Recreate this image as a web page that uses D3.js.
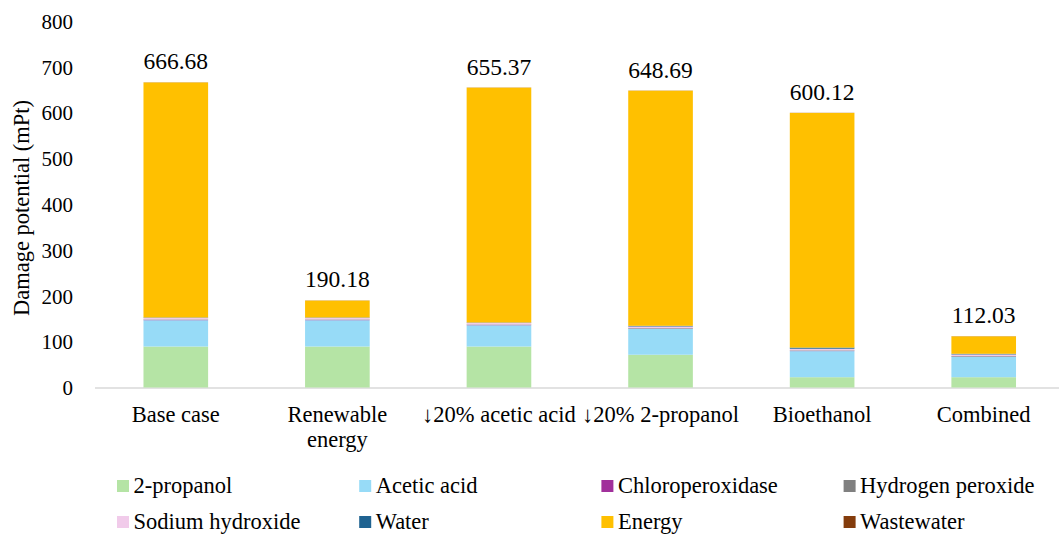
<!DOCTYPE html>
<html><head><meta charset="utf-8">
<script src="https://cdn.jsdelivr.net/npm/d3@7/dist/d3.min.js"></script>
<style>
html,body{margin:0;padding:0;background:#fff;}
svg text{font-family:"Liberation Serif","Tinos","Times New Roman","DejaVu Serif",serif !important;fill:#000;}
</style></head>
<body><svg id="c" width="1059" height="534"></svg>
<script>
const categories = ["Base case","Renewable energy","\u219320% acetic acid","\u219320% 2-propanol","Bioethanol","Combined"];
const seriesNames = ["2-propanol","Acetic acid","Chloroperoxidase","Hydrogen peroxide","Sodium hydroxide","Water","Energy","Wastewater"];
const propanol       = [89.5, 89.5, 89.5, 71.6, 22.5, 22.5];
const aceticAcid     = [57.5, 57.5, 46.5, 56.5, 57.0, 44.5];
const chloroperox    = [0.5, 0.5, 0.5, 0.5, 0.5, 0.5];
const hydrogenPerox  = [1.2, 1.2, 1.2, 1.2, 1.2, 1.2];
const sodiumHydrox   = [3.5, 3.5, 3.5, 3.5, 3.5, 3.5];
const water          = [0.8, 0.8, 0.8, 1.5, 2.5, 1.5];
const energy         = [513.38, 36.88, 513.07, 513.59, 512.62, 38.03];
const wastewater     = [0.3, 0.3, 0.3, 0.3, 0.3, 0.3];
const totals         = [666.68, 190.18, 655.37, 648.69, 600.12, 112.03];
const yTicks         = [0,100,200,300,400,500,600,700,800];

const colors = ["#B5E4A5","#97DBF7","#A1309B","#808080","#F1CBEA","#1F6391","#FFC000","#843C0C"];
const seriesValues = [propanol, aceticAcid, chloroperox, hydrogenPerox, sodiumHydrox, water, energy, wastewater];
const FONT = '"Liberation Serif","Tinos","Times New Roman","DejaVu Serif",serif';

const rows = categories.map((c,i)=>{
  const r = {cat:c};
  seriesNames.forEach((s,j)=>{ r[s] = seriesValues[j][i]; });
  return r;
});

const svg = d3.select("#c").attr("font-family",FONT);
const x = d3.scaleBand().domain(categories).range([95, 1064.5]).paddingInner(0.6).paddingOuter(0.3);
const y = d3.scaleLinear().domain([0,800]).range([387.5, 21.3]);

const stack = d3.stack().keys(seriesNames)(rows);

svg.append("line").attr("x1",95).attr("x2",1064.5).attr("y1",388).attr("y2",388)
  .attr("stroke","#D9D9D9").attr("stroke-width",1.5);

svg.append("g").selectAll("g").data(stack).join("g")
  .attr("fill",(d,i)=>colors[i])
  .selectAll("rect").data(d=>d).join("rect")
  .attr("x",d=>x(d.data.cat))
  .attr("width",x.bandwidth())
  .attr("y",d=>y(d[1]))
  .attr("height",d=>Math.max(0,y(d[0])-y(d[1])));

const yAxis = d3.axisLeft(y).tickValues(yTicks).tickSize(0).tickPadding(0).tickFormat(d3.format("d"));
const ya = svg.append("g").attr("transform","translate(73,0)").call(yAxis);
ya.attr("font-family",FONT).attr("font-size",21);
ya.select(".domain").remove();
ya.selectAll("text").attr("fill","#000").attr("dy","0.34em");

svg.append("text").attr("transform","translate(29,208) rotate(-90)")
  .attr("text-anchor","middle").attr("font-size",22.5).text("Damage potential (mPt)");

svg.append("g").selectAll("text").data(categories).join("text")
  .attr("x",d=>x(d)+x.bandwidth()/2)
  .attr("y",(d,i)=>y(totals[i])-13)
  .attr("text-anchor","middle").attr("font-size",23.5)
  .text((d,i)=>totals[i].toFixed(2));

const xl = svg.append("g").selectAll("text").data(categories).join("text")
  .attr("x",d=>x(d)+x.bandwidth()/2).attr("y",421.5)
  .attr("text-anchor","middle").attr("font-size",22.5);
xl.each(function(d){
  const t = d3.select(this);
  t.text(d);
  if (this.getComputedTextLength() > 163) {
    const words = d.split(" ");
    t.text(null);
    t.append("tspan").attr("x",x(d)+x.bandwidth()/2).attr("dy",0).text(words[0]);
    t.append("tspan").attr("x",x(d)+x.bandwidth()/2).attr("dy","1.15em").text(words.slice(1).join(" "));
  }
});

const lg = svg.append("g").selectAll("g").data(seriesNames).join("g")
  .attr("transform",(d,i)=>`translate(${117 + (i%4)*242.2},${480 + Math.floor(i/4)*36})`);
lg.append("rect").attr("width",12).attr("height",12).attr("fill",(d,i)=>colors[i]);
lg.append("text").attr("x",16.5).attr("y",13).attr("font-size",22.5).text(d=>d);
</script></body></html>
